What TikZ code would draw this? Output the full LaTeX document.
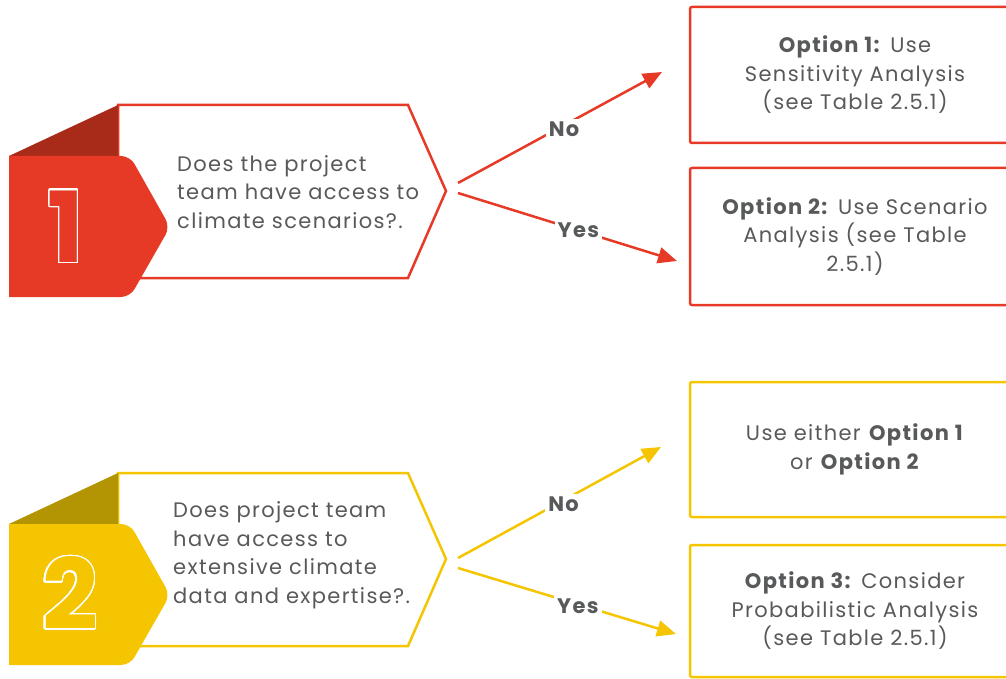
\documentclass[tikz,border=0pt]{standalone}
\usepackage{fontspec}
\setmainfont{Poppins}[LetterSpace=6.5]
\newfontfamily\digitfont{Poppins}
\usepackage[copies]{contour}
\usetikzlibrary{positioning, arrows.meta, calc}

\definecolor{qred}{HTML}{E63A27}
\definecolor{qredd}{HTML}{A82B1A}
\definecolor{qyel}{HTML}{F4C500}
\definecolor{qyeld}{HTML}{B39503}
\definecolor{txtgray}{HTML}{58595B}
\contourlength{1.4pt}
\contournumber{32}

\begin{document}
\begin{tikzpicture}[
  x=1pt, y=-1pt,
  font=\fontsize{21}{28.5}\selectfont,
  >={Triangle[length=19pt,width=16pt]},
  ques/.style={anchor=west, align=left, inner sep=0pt, text=txtgray},
  opt/.style={draw=#1, rounded corners=2pt, line width=2.5pt, minimum width=330pt, align=center, text=txtgray},
  qbox/.style={draw=#1, line width=2.5pt, fill=white, line join=miter},
  arr/.style={->, line width=2.5pt, draw=#1, fill=#1},
  lbl/.style={fill=white, inner sep=3pt, text=txtgray, font=\fontsize{21}{24}\selectfont\bfseries},
  digit/.style={text=#1, font=\digitfont\fontsize{98}{98}\selectfont\bfseries}
]
\useasboundingbox (0,0) rectangle (1006,679);
\clip (0,0) rectangle (1006,679);

% question 1
\draw[qbox=qred] (118,105) -- (408,105) -- (446,191) -- (408,278) -- (118,278) -- cycle;
\fill[qredd] (9,156) -- (118,105) -- (118,156) -- cycle;
\fill[qred] (9,156) [rounded corners=9pt] -- (130,156) -- (170,227) -- (130,297) [sharp corners] -- (9,297) -- cycle;
\node[digit=qred] (num1) at (66,227) {\contour{white}{1}};
\node[ques] (q1) at (177,192) {Does the project\\team have access to\\climate scenarios?.};

\node[opt=qred, minimum height=136pt] (o1) at (855,75) {\textbf{Option 1:} Use\\Sensitivity Analysis\\(see Table 2.5.1)};
\node[opt=qred, minimum height=137pt] (o2) at (855,236.5) {\textbf{Option 2:} Use Scenario\\Analysis (see Table\\2.5.1)};

\coordinate (s1no) at (458,183);
\coordinate (s1yes) at (458,193);
\coordinate (t1no) at (662,72);
\coordinate (t1yes) at (677,261);
\draw[arr=qred] (s1no) -- node[lbl, pos=0.52, yshift=-4pt] (no1) {No} (t1no);
\draw[arr=qred] (s1yes) -- node[lbl, pos=0.55] (yes1) {Yes} (t1yes);

% question 2
\draw[qbox=qyel] (118,473) -- (408,473) -- (446,559) -- (408,646) -- (118,646) -- cycle;
\fill[qyeld] (9,524) -- (118,473) -- (118,524) -- cycle;
\fill[qyel] (9,524) [rounded corners=9pt] -- (130,524) -- (170,595) -- (130,665) [sharp corners] -- (9,665) -- cycle;
\node[digit=qyel] (num2) at (70,594) {\contour{white}{2}};
\node[ques] (q2) at (173,555) {Does project team\\have access to\\extensive climate\\data and expertise?.};

\node[opt=qyel, minimum height=135pt] (o3) at (855,449.5) {Use either \textbf{Option 1}\\or \textbf{Option 2}};
\node[opt=qyel, minimum height=132pt] (o4) at (855,611) {\textbf{Option 3:} Consider\\Probabilistic Analysis\\(see Table 2.5.1)};

\coordinate (s2no) at (458,558);
\coordinate (s2yes) at (458,568);
\coordinate (t2no) at (661,447);
\coordinate (t2yes) at (676,634);
\draw[arr=qyel] (s2no) -- node[lbl, pos=0.52, yshift=-4pt] (no2) {No} (t2no);
\draw[arr=qyel] (s2yes) -- node[lbl, pos=0.55, yshift=-2pt] (yes2) {Yes} (t2yes);
\end{tikzpicture}
\end{document}
